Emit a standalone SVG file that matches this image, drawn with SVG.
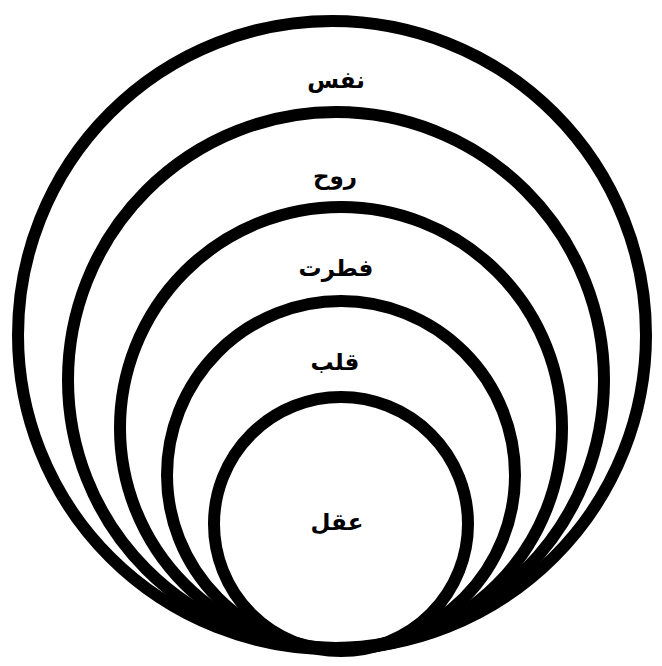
<svg xmlns="http://www.w3.org/2000/svg" width="662" height="666" viewBox="0 0 662 666">
<style>
.ring{fill:none;stroke:#000;stroke-width:12}
.lbl{font-family:"DejaVu Sans","Noto Sans",sans-serif;font-size:23px;font-weight:bold;fill:#000;text-anchor:middle;dominant-baseline:central}
</style>
<rect width="662" height="666" fill="#fff"/>
<g id="nafs"><circle class="ring" cx="332" cy="335" r="314"/><text class="lbl" x="336" y="80">نفس</text></g>
<g id="ruh"><circle class="ring" cx="336" cy="380" r="268"/><text class="lbl" x="335" y="176">روح</text></g>
<g id="fitrat"><circle class="ring" cx="341" cy="428" r="221"/><text class="lbl" x="336" y="268">فطرت</text></g>
<g id="qalb"><circle class="ring" cx="341" cy="475" r="174"/><text class="lbl" x="335" y="362">قلب</text></g>
<g id="aql"><circle class="ring" cx="341" cy="524" r="127"/><text class="lbl" x="337" y="522">عقل</text></g>
</svg>
